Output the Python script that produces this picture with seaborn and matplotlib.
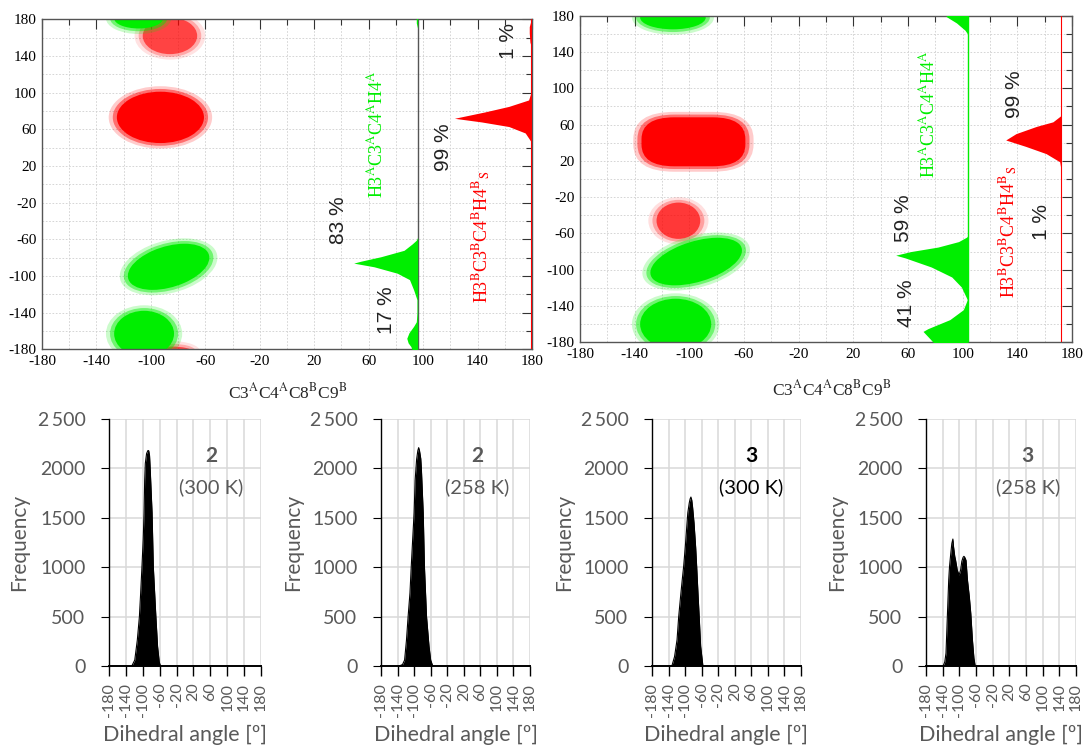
import matplotlib.pyplot as plt
import seaborn as sns
from matplotlib.patches import Ellipse, FancyBboxPatch

# ---------------- top: dihedral maps ----------------
# point clouds: (centre x, centre y, width, height, tilt)
tl_green_clouds = [(-87, -90, 66, 42, 33), (-105, -163, 44, 50, 0), (-109, 181, 36, 22, 0)]
tl_red_clouds = [(-93, 73, 64, 56, 0)]
tl_red_sparse = [(-86, 162, 40, 40, 0), (-85, -182, 30, 10, 0)]
tr_green_clouds = [(-95, -91, 74, 42, 31), (-110, -160, 52, 56, 0), (-112, 178, 48, 26, 0)]
tr_red_clouds = [(-97, 41, 76, 54, 0)]
tr_red_sparse = [(-108, -46, 32, 40, 0)]

# side histograms: angle (y) and left edge of the filled profile (x)
tl_green_hist_y = [181, 176, 170, -58, -61, -65, -72, -79, -84, -86, -90, -97, -104, -115, -126,
                   -140, -150, -155, -162, -168, -173, -177, -181]
tl_green_hist_x = [95, 95, 96, 96, 95, 92, 86, 69, 54, 49, 64, 81, 90, 93, 95.5,
                   95.5, 95, 93, 89.6, 88, 89, 91, 92]
tl_red_hist_y = [180, 172, 165, 155, 150, 105, 99, 92, 85, 79, 74.5, 72, 68, 63, 56, 46, 40]
tl_red_hist_x = [179.5, 178, 178, 178.5, 179.5, 179.5, 179, 177.5, 163, 145.5, 131, 123,
                 143, 163, 175, 179.5, 179.5]
tr_green_hist_y = [181, 179, 172, 164, 159, -62, -64, -69, -75, -80, -84, -87, -97, -108,
                   -119, -133, -144, -155, -165, -168, -176, -181]
tr_green_hist_x = [88, 88, 95.5, 101.7, 104, 104, 103, 97, 82, 62, 51, 58, 77, 92,
                   99, 103.4, 100.5, 90.6, 74.5, 71, 76, 79]
tr_red_hist_y = [70, 63, 58, 50, 43, 36, 28, 19, 10]
tr_red_hist_x = [172, 166, 154, 139, 131.5, 146, 161, 171, 172]

# ---------------- bottom: dihedral angle histograms ----------------
p1_x = [-126, -119, -113, -108, -105, -102, -99, -97, -95.5, -94, -91, -88, -86, -84, -82.5,
        -78, -75, -69, -65, -61, -58]
p1_y = [0, 60, 260, 500, 740, 1000, 1280, 1550, 1880, 2050, 2150, 2180, 2180, 2130, 2000,
        1550, 1000, 500, 200, 40, 0]
p2_x = [-136, -128, -123, -118.5, -114.5, -110, -107, -103.5, -100, -97.5, -94, -91, -89, -87,
        -84, -82.5, -78, -75, -70, -64, -60, -55]
p2_y = [0, 15, 60, 260, 500, 740, 1000, 1280, 1550, 1880, 2090, 2180, 2210, 2180,
        2100, 2000, 1550, 1000, 500, 200, 60, 0]
p3_x = [-132, -125.5, -119.5, -115.5, -111, -107, -103.5, -99.5, -96, -93.5, -90, -88, -86, -84,
        -82, -78.5, -74.5, -72, -68.5, -66, -62.5, -57]
p3_y = [0, 95, 265, 500, 700, 870, 1010, 1210, 1410, 1550, 1650, 1690, 1710, 1680,
        1610, 1450, 1200, 1000, 700, 500, 200, 0]
p4_x = [-139, -135, -132, -128.5, -125.5, -123.5, -120.5, -118, -115.5, -114, -111, -109, -105,
        -100.5, -97, -94, -91, -89, -87, -84, -80.5, -76, -72.5, -68.5, -65, -62]
p4_y = [0, 40, 130, 530, 870, 1010, 1140, 1240, 1285, 1210, 1110, 1070, 970,
        920, 970, 1060, 1100, 1110, 1100, 1070, 870, 700, 530, 260, 80, 0]

angle_ticks = list(range(-180, 181, 40))
freq_ticks = [0, 500, 1000, 1500, 2000, 2500]
freq_labels = ["0", "500", "1000", "1500", "2000", "2\u2009500"]

GREEN = "#00ee00"
RED = "#ff0000"
GREY = "#595959"

sns.set_style("white")
plt.rcParams["mathtext.fontset"] = "stix"
plt.rcParams["axes.unicode_minus"] = False

W, H = 1083, 748
fig = plt.figure(figsize=(W / 100, H / 100), dpi=100)


def px_axes(l, t, r, b):
    return fig.add_axes([l / W, 1 - b / H, (r - l) / W, (b - t) / H])


def draw_clouds(ax, clouds, color, core_alpha, halo_alpha, box=False):
    for cx, cy, w, h, tilt in clouds:
        for grow, a in ((12, halo_alpha * 0.45), (6, halo_alpha), (0, core_alpha)):
            if box:
                ax.add_patch(FancyBboxPatch((cx - (w + grow) / 2, cy - (h + grow) / 2),
                                            w + grow, h + grow,
                                            boxstyle="round,pad=0,rounding_size=%g" % (24 + grow / 2),
                                            fc=color, ec="none", alpha=a, zorder=2))
            else:
                ax.add_patch(Ellipse((cx, cy), w + grow, h + grow, angle=tilt, fc=color,
                                     ec="none", alpha=a, zorder=2))


def style_map(ax):
    ax.set_xlim(-180, 180)
    ax.set_ylim(-180, 180)
    ax.set_xticks(angle_ticks)
    ax.set_yticks(angle_ticks)
    ax.set_xticks(range(-160, 180, 40), minor=True)
    ax.set_yticks(range(-160, 180, 40), minor=True)
    ax.grid(which="both", color="#cfcfcf", ls=(0, (2, 2)), lw=0.6)
    ax.set_axisbelow(True)
    ax.tick_params(which="both", direction="in", top=True, right=True, colors="#333333",
                   labelcolor="black", labelsize=11, pad=4)
    ax.tick_params(which="major", length=7, width=0.8)
    ax.tick_params(which="minor", length=4, width=0.8)
    for lab in ax.get_xticklabels() + ax.get_yticklabels():
        lab.set_family("Liberation Serif")
    for sp in ax.spines.values():
        sp.set_color("#555555")
        sp.set_linewidth(1.0)
    ax.set_xlabel(r"C3$^{\rm A}$C4$^{\rm A}$C8$^{\rm B}$C9$^{\rm B}$",
                  family="Liberation Serif", fontsize=12.5)


def pct(ax, x, y, s):
    ax.text(x, y, s, rotation=90, ha="center", va="center", fontsize=15,
            family="Liberation Sans", color="#222222", zorder=6)


green_lab = r"H3$^{\rm A}$C3$^{\rm A}$C4$^{\rm A}$H4$^{\rm A}$"
red_lab = r"H3$^{\rm B}$C3$^{\rm B}$C4$^{\rm B}$H4$^{\rm B}$$_{\rm S}$"

# ---- top-left map
ax = px_axes(42, 19.3, 532, 349.3)
style_map(ax)
draw_clouds(ax, tl_red_sparse, RED, 0.6, 0.25)
draw_clouds(ax, tl_green_clouds, GREEN, 1.0, 0.45)
draw_clouds(ax, tl_red_clouds, RED, 1.0, 0.45)
ax.axvline(96, color="#555555", lw=1.0, zorder=4)
ax.axvline(179.5, color=RED, lw=0.8, zorder=4)
ax.fill_betweenx(tl_green_hist_y, tl_green_hist_x, 96, color=GREEN, lw=0, zorder=5)
ax.fill_betweenx(tl_red_hist_y, tl_red_hist_x, 179.5, color=RED, lw=0, zorder=5)
pct(ax, 38, -39, "83 %")
pct(ax, 73, -137, "17 %")
pct(ax, 115, 40, "99 %")
pct(ax, 163, 156, "1 %")
ax.text(66, 55, green_lab, rotation=90, ha="center", va="center", color=GREEN,
        family="Liberation Serif", fontsize=13, zorder=6)
ax.text(143, -57, red_lab, rotation=90, ha="center", va="center", color=RED,
        family="Liberation Serif", fontsize=13, zorder=6)
ax.xaxis.set_label_coords(0.502, -0.1)

# ---- top-right map
ax = px_axes(580, 15.7, 1072, 342.3)
style_map(ax)
draw_clouds(ax, tr_red_sparse, RED, 0.65, 0.28)
draw_clouds(ax, tr_green_clouds, GREEN, 1.0, 0.45)
draw_clouds(ax, tr_red_clouds, RED, 1.0, 0.45, box=True)
ax.axvline(104, color=GREEN, lw=1.0, zorder=4)
ax.axvline(172, color=RED, lw=0.8, zorder=4)
ax.fill_betweenx(tr_green_hist_y, tr_green_hist_x, 104, color=GREEN, lw=0, zorder=5)
ax.fill_betweenx(tr_red_hist_y, tr_red_hist_x, 172, color=RED, lw=0, zorder=5)
pct(ax, 57, -43, "59 %")
pct(ax, 59, -137, "41 %")
pct(ax, 138, 94, "99 %")
pct(ax, 158, -47, "1 %")
ax.text(75, 72, green_lab, rotation=90, ha="center", va="center", color=GREEN,
        family="Liberation Serif", fontsize=13, zorder=6)
ax.text(134, -58, red_lab, rotation=90, ha="center", va="center", color=RED,
        family="Liberation Serif", fontsize=13, zorder=6)
ax.xaxis.set_label_coords(0.512, -0.115)

# ---- bottom histograms
panels = [
    ((109, 419, 261, 666), p1_x, p1_y, "2", "(300 K)", 62, GREY),
    ((381, 419, 530, 666), p2_x, p2_y, "2", "(258 K)", 52, GREY),
    ((652, 419, 801, 666), p3_x, p3_y, "3", "(300 K)", 59, "black"),
    ((926, 419, 1076, 666), p4_x, p4_y, "3", "(258 K)", 64, GREY),
]
for box, xs, ys, num, temp, tx, tcol in panels:
    ax = px_axes(*box)
    sns.lineplot(x=xs, y=ys, color="black", lw=0.8, ax=ax)
    ax.fill_between(xs, ys, color="black", lw=0)
    ax.set_xlim(-180, 180)
    ax.set_ylim(0, 2500)
    ax.set_xticks(angle_ticks)
    ax.set_xticklabels([str(t) for t in angle_ticks], rotation=90)
    ax.set_yticks(freq_ticks)
    ax.set_yticklabels(freq_labels)
    ax.grid(color="#d9d9d9", lw=1.1)
    ax.set_axisbelow(True)
    for side in ("top", "right"):
        ax.spines[side].set_visible(False)
    ax.spines["left"].set_color("black")
    ax.spines["left"].set_linewidth(1.0)
    ax.spines["bottom"].set_color("black")
    ax.spines["bottom"].set_linewidth(1.4)
    ax.tick_params(axis="x", bottom=True, direction="out", length=7, width=1.0, color="black",
                   labelsize=11.5, labelcolor=GREY, pad=5)
    ax.tick_params(axis="y", left=True, direction="out", length=6, width=0.8, color="black",
                   labelsize=14, labelcolor=GREY, pad=11)
    for lab in ax.get_xticklabels() + ax.get_yticklabels():
        lab.set_family(["Lato", "DejaVu Sans"])
    ax.set_xlabel("Dihedral angle [º]", family="Lato", fontsize=15.5, color=GREY)
    ax.set_ylabel("Frequency", family="Lato", fontsize=15, color=GREY)
    ax.xaxis.set_label_coords(0.5, -0.24)
    ax.yaxis.set_label_coords(-0.525, 0.5)
    ax.text(tx, 2130, num, ha="center", va="center", fontsize=15, fontweight="bold",
            family="Lato", color=tcol)
    ax.text(tx, 1805, temp, ha="center", va="center", fontsize=14.5, family="Lato",
            color=tcol)

fig.savefig("out.png", dpi=100)
